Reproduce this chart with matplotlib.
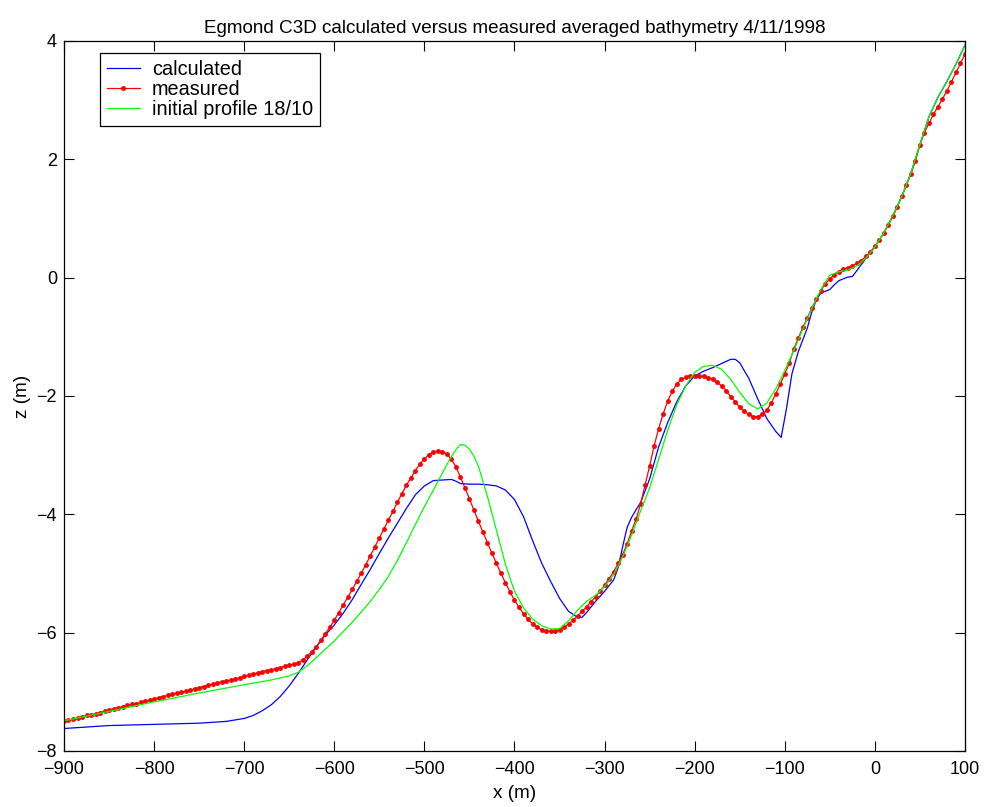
import numpy as np
import matplotlib
matplotlib.use("Agg")
from matplotlib import pyplot as plt

plt.rcParams['font.family'] = ['Liberation Sans', 'DejaVu Sans']

# measured profile, one point every 5 m from -900 to 100
x_meas = np.arange(-900, 101, 5)
z_meas = [
    -7.50, -7.48, -7.46, -7.44, -7.42, -7.40, -7.39, -7.37, -7.35, -7.33,   # -900
    -7.31, -7.29, -7.27, -7.25, -7.23, -7.21, -7.20, -7.18, -7.16, -7.14,   # -850
    -7.12, -7.10, -7.08, -7.06, -7.04, -7.02, -7.01, -6.99, -6.97, -6.95,   # -800
    -6.93, -6.91, -6.89, -6.87, -6.85, -6.83, -6.82, -6.80, -6.78, -6.76,   # -750
    -6.74, -6.72, -6.70, -6.68, -6.66, -6.64, -6.63, -6.61, -6.59, -6.57,   # -700
    -6.55, -6.53, -6.51, -6.46, -6.40, -6.32, -6.24, -6.13, -6.02, -5.91,   # -650
    -5.79, -5.66, -5.53, -5.40, -5.27, -5.13, -4.99, -4.85, -4.70, -4.55,   # -600
    -4.40, -4.25, -4.10, -3.95, -3.80, -3.65, -3.51, -3.38, -3.26, -3.15,   # -550
    -3.06, -2.99, -2.95, -2.93, -2.94, -2.98, -3.07, -3.20, -3.37, -3.55,   # -500
    -3.74, -3.93, -4.12, -4.30, -4.48, -4.66, -4.83, -5.00, -5.16, -5.31,   # -450
    -5.45, -5.57, -5.68, -5.77, -5.85, -5.91, -5.95, -5.97, -5.98, -5.97,   # -400
    -5.95, -5.91, -5.85, -5.79, -5.72, -5.64, -5.56, -5.48, -5.39, -5.30,   # -350
    -5.20, -5.09, -4.97, -4.83, -4.68, -4.50, -4.28, -4.08, -3.82, -3.50,   # -300
    -3.18, -2.84, -2.55, -2.30, -2.09, -1.92, -1.80, -1.72, -1.68, -1.66,   # -250
    -1.66, -1.66, -1.67, -1.69, -1.72, -1.77, -1.83, -1.91, -2.01, -2.10,   # -200
    -2.19, -2.26, -2.31, -2.35, -2.35, -2.31, -2.24, -2.12, -1.96, -1.80,   # -150
    -1.62, -1.45, -1.20, -1.02, -0.84, -0.68, -0.51, -0.36, -0.22, -0.10,   # -100
    -0.02, 0.05, 0.10, 0.14, 0.17, 0.20, 0.24, 0.29, 0.36, 0.44,            # -50
    0.53, 0.64, 0.76, 0.89, 1.04, 1.20, 1.38, 1.56, 1.76, 1.97,             # 0
    2.25, 2.45, 2.61, 2.76, 2.89, 3.02, 3.16, 3.31, 3.47, 3.62,             # 50
    3.78,                                                                   # 100
]

# initial profile 18/10
x_init = [-900, -850, -800, -750, -700, -670, -650, -640, -630, -620,
          -610, -600, -590, -580, -570, -560, -550, -540, -530, -520,
          -510, -500, -490, -480, -470, -465, -460, -455, -450, -445,
          -440, -430, -420, -410, -400, -390, -380, -370, -360, -350,
          -340, -330, -320, -310, -300, -290, -280, -270, -260, -250,
          -240, -230, -220, -210, -200, -190, -180, -170, -160, -150,
          -140, -130, -120, -110, -100, -90, -80, -70, -60, -50,
          -40, -30, -20, -10, 0, 10, 20, 30, 40, 50,
          60, 70, 80, 90, 100]
z_init = [-7.49, -7.33, -7.17, -7.02, -6.88, -6.80, -6.73, -6.67, -6.56, -6.42,
          -6.28, -6.14, -5.98, -5.82, -5.65, -5.47, -5.27, -5.05, -4.78, -4.48,
          -4.17, -3.87, -3.59, -3.30, -3.02, -2.91, -2.82, -2.83, -2.90, -3.02,
          -3.19, -3.70, -4.27, -4.85, -5.30, -5.58, -5.77, -5.88, -5.94, -5.93,
          -5.80, -5.62, -5.47, -5.37, -5.22, -5.02, -4.72, -4.35, -3.94, -3.55,
          -3.07, -2.58, -2.15, -1.83, -1.60, -1.50, -1.48, -1.55, -1.72, -1.94,
          -2.13, -2.22, -2.12, -1.88, -1.57, -1.23, -0.87, -0.52, -0.20, 0.04,
          0.10, 0.13, 0.20, 0.33, 0.52, 0.76, 1.05, 1.38, 1.77, 2.25,
          2.72, 3.05, 3.32, 3.61, 3.93]

# C3D result
x_calc = [-900, -850, -800, -750, -720, -700, -690, -680, -670, -660,
          -650, -640, -630, -620, -610, -600, -590, -580, -570, -560,
          -550, -540, -530, -520, -510, -500, -490, -480, -470, -465,
          -460, -450, -440, -430, -420, -410, -400, -390, -380, -370,
          -360, -350, -340, -330, -325, -320, -310, -300, -290, -285,
          -280, -275, -270, -265, -260, -250, -240, -230, -220, -210,
          -200, -190, -180, -170, -160, -155, -150, -140, -130, -120,
          -110, -104, -98, -92, -85, -80, -75, -70, -65, -60,
          -55, -50, -45, -40, -30, -25, -20, -10, 0, 10,
          20, 30, 40, 50, 60, 70, 80, 90, 100]
z_calc = [-7.62, -7.57, -7.55, -7.53, -7.50, -7.45, -7.40, -7.32, -7.22, -7.08,
          -6.90, -6.69, -6.46, -6.24, -6.04, -5.87, -5.67, -5.44, -5.18, -4.93,
          -4.66, -4.40, -4.15, -3.90, -3.67, -3.52, -3.43, -3.42, -3.41, -3.44,
          -3.48, -3.49, -3.49, -3.50, -3.52, -3.59, -3.75, -4.04, -4.44, -4.82,
          -5.13, -5.42, -5.64, -5.74, -5.74, -5.66, -5.47, -5.30, -5.11, -4.90,
          -4.55, -4.22, -4.05, -3.92, -3.80, -3.40, -2.86, -2.45, -2.10, -1.83,
          -1.66, -1.58, -1.52, -1.45, -1.38, -1.38, -1.44, -1.70, -2.05, -2.38,
          -2.60, -2.70, -2.20, -1.62, -1.25, -1.05, -0.85, -0.58, -0.37, -0.26,
          -0.23, -0.20, -0.12, -0.05, 0.01, 0.02, 0.12, 0.33, 0.52, 0.76,
          1.05, 1.38, 1.77, 2.25, 2.72, 3.05, 3.32, 3.61, 3.93]

fig = plt.figure(figsize=(9.86, 8.07), dpi=100)
ax = fig.add_axes([0.0649, 0.0694, 0.9138, 0.8798])

ax.plot(x_calc, z_calc, color='#0000ff', lw=0.9, label='calculated')
ax.plot(x_meas, z_meas, color='#ff0000', lw=0.9, marker='.', ms=5,
        label='measured')
ax.plot(x_init, z_init, color='#00ff00', lw=0.9, label='initial profile 18/10')

ax.set_xlim(-900, 100)
ax.set_ylim(-8, 4)
ax.set_xticks(np.arange(-900, 101, 100))
ax.set_yticks(np.arange(-8, 5, 2))
ax.tick_params(direction='in', length=7, width=0.8, top=True, right=True,
               labelsize=13)
ax.tick_params(axis='x', pad=7)
ax.tick_params(axis='y', pad=5)
for s in ax.spines.values():
    s.set_linewidth(0.9)

ax.set_title('Egmond C3D calculated versus measured averaged bathymetry 4/11/1998',
             fontsize=13.6, pad=6)
ax.set_xlabel('x (m)', fontsize=13.6, labelpad=5)
ax.set_ylabel('z (m)', fontsize=13.6, labelpad=4)

leg = ax.legend(loc='upper left', bbox_to_anchor=(0.040, 0.983), fontsize=14.3,
                fancybox=False, framealpha=1, edgecolor='black',
                handlelength=1.66, handletextpad=0.59, labelspacing=0.05,
                borderpad=0.35, borderaxespad=0)
leg.get_frame().set_linewidth(0.9)

plt.savefig('out.png', dpi=100)
